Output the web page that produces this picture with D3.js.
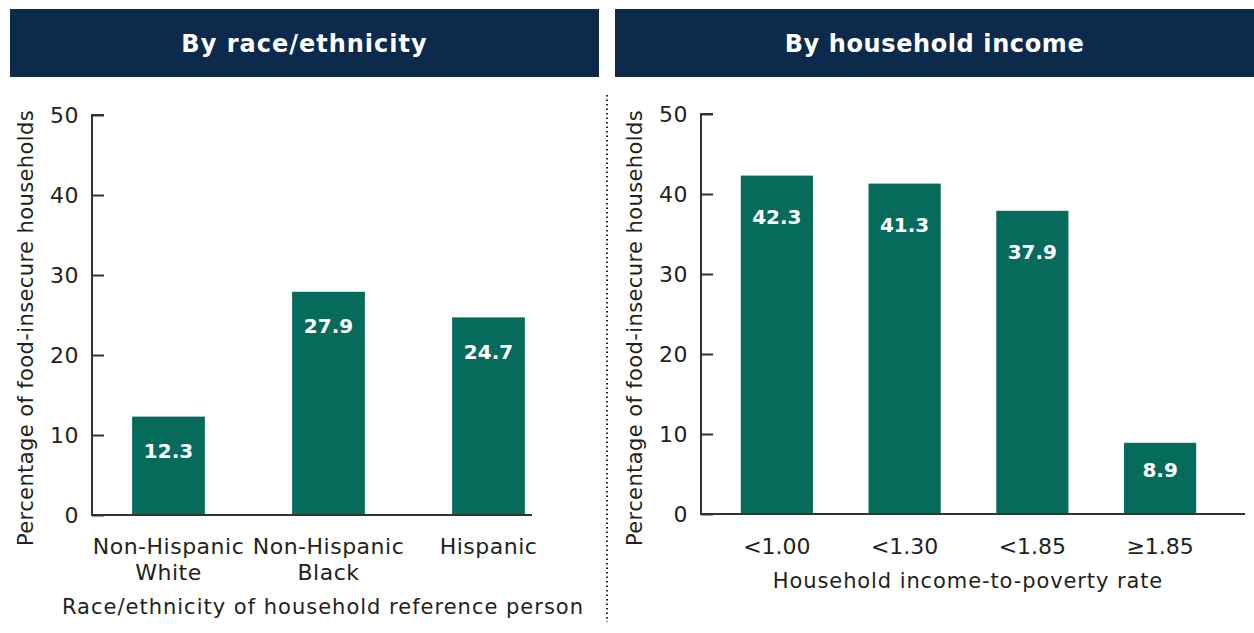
<!DOCTYPE html>
<html><head><meta charset="utf-8">
<script src="https://cdn.jsdelivr.net/npm/d3@7"></script>
<style>body{margin:0;background:#fff}svg{display:block}</style>
</head><body>
<script>
const raceCategories = ["Non-Hispanic White", "Non-Hispanic Black", "Hispanic"];
const raceValues = [12.3, 27.9, 24.7];
const incomeCategories = ["<1.00", "<1.30", "<1.85", "≥1.85"];
const incomeValues = [42.3, 41.3, 37.9, 8.9];
const yTicks = [0, 10, 20, 30, 40, 50];
const panelTitles = ["By race/ethnicity", "By household income"];
const xTitles = ["Race/ethnicity of household reference person", "Household income-to-poverty rate"];
const yTitle = "Percentage of food-insecure households";

const W = 1254, H = 633;
const FONT = "'DejaVu Sans', sans-serif";
const NAVY = "#0c2a4b", GREEN = "#066b5b", AX = "#333", TXT = "#231f20";

const svg = d3.select("body").append("svg").attr("width", W).attr("height", H);

function panel(o) {
  const g = svg.append("g");
  g.append("rect").attr("x", o.hx0).attr("y", 9).attr("width", o.hx1 - o.hx0).attr("height", 68).attr("fill", NAVY);
  g.append("text").attr("x", (o.hx0 + o.hx1) / 2).attr("y", 52).attr("text-anchor", "middle")
    .attr("fill", "#fff").attr("font-family", FONT).attr("font-weight", "bold").attr("font-size", 24)
    .attr("letter-spacing", o.hls).text(o.title);

  const y = d3.scaleLinear().domain([0, 50]).range([o.y0, o.y0 - 400]);
  const x = d3.scaleBand().domain(o.cats).range(o.band).paddingInner(o.pad).paddingOuter(o.pad / 2);

  const ya = d3.axisRight(y).tickValues(yTicks).tickSize(12).tickFormat("");
  const yg = g.append("g").attr("transform", `translate(${o.ax},0)`).call(ya);
  yg.select(".domain").attr("stroke", AX).attr("stroke-width", 2).attr("d", `M12,${y(50)}H0V${y(0)}`);
  yg.selectAll(".tick line").attr("stroke", AX).attr("stroke-width", 2);
  g.selectAll(".ylab").data(yTicks).join("text")
    .attr("x", o.ax - 13).attr("y", d => y(d) + 8).attr("text-anchor", "end")
    .attr("font-family", FONT).attr("font-size", 22).attr("letter-spacing", 0.5).attr("fill", TXT).text(d => d);

  g.selectAll(".bar").data(o.vals).join("rect")
    .attr("x", (d, i) => x(o.cats[i])).attr("width", x.bandwidth())
    .attr("y", d => y(d)).attr("height", d => y(0) - y(d)).attr("fill", GREEN);
  g.selectAll(".val").data(o.vals).join("text")
    .attr("x", (d, i) => x(o.cats[i]) + x.bandwidth() / 2)
    .attr("y", d => y(d) + Math.min(o.labOff, (y(0) - y(d)) * 0.37) + 7.5)
    .attr("text-anchor", "middle").attr("fill", "#fff").attr("font-family", FONT)
    .attr("font-weight", "bold").attr("font-size", 20).text(d => d.toFixed(1));

  g.append("line").attr("x1", o.ax - 1).attr("x2", o.axEnd).attr("y1", y(0)).attr("y2", y(0))
    .attr("stroke", AX).attr("stroke-width", 2);

  o.cats.forEach((c, i) => {
    const lines = o.wrap ? c.replace("Non-Hispanic ", "Non-Hispanic\n").split("\n") : [c];
    const t = g.append("text").attr("text-anchor", "middle").attr("font-family", FONT)
      .attr("font-size", 22).attr("letter-spacing", o.cls).attr("fill", TXT);
    lines.forEach((l, k) => t.append("tspan").attr("x", x(c) + x.bandwidth() / 2)
      .attr("y", 554 + k * 26).text(l));
  });
  g.append("text").attr("x", o.xtx).attr("y", o.xty).attr("text-anchor", "middle")
    .attr("font-family", FONT).attr("font-size", 21).attr("letter-spacing", o.xls).attr("fill", TXT).text(o.xtitle);
  g.append("text").attr("transform", `translate(${o.ytx},328) rotate(-90)`)
    .attr("text-anchor", "middle").attr("font-family", FONT).attr("font-size", 21).attr("letter-spacing", 0.4)
    .attr("fill", TXT).text(yTitle);
}

panel({hx0: 10, hx1: 599, title: panelTitles[0], cats: raceCategories, vals: raceValues, hls: 1,
  ax: 92, axEnd: 532, y0: 515, band: [88.5, 568.5], pad: 0.545, wrap: true, labOff: 34, cls: 0.5, xls: 1,
  xtitle: xTitles[0], xtx: 323, xty: 614, ytx: 33});
panel({hx0: 615, hx1: 1254, title: panelTitles[1], cats: incomeCategories, vals: incomeValues, hls: 0.6,
  ax: 701, axEnd: 1245, y0: 514, band: [713, 1224], pad: 0.435, labOff: 41, cls: 0, xls: 0.9,
  xtitle: xTitles[1], xtx: 968, xty: 588, ytx: 642});

svg.append("line").attr("x1", 607).attr("x2", 607).attr("y1", 95).attr("y2", 622)
  .attr("stroke", NAVY).attr("stroke-width", 2).attr("stroke-dasharray", "1.5,3");
</script>
</body></html>
